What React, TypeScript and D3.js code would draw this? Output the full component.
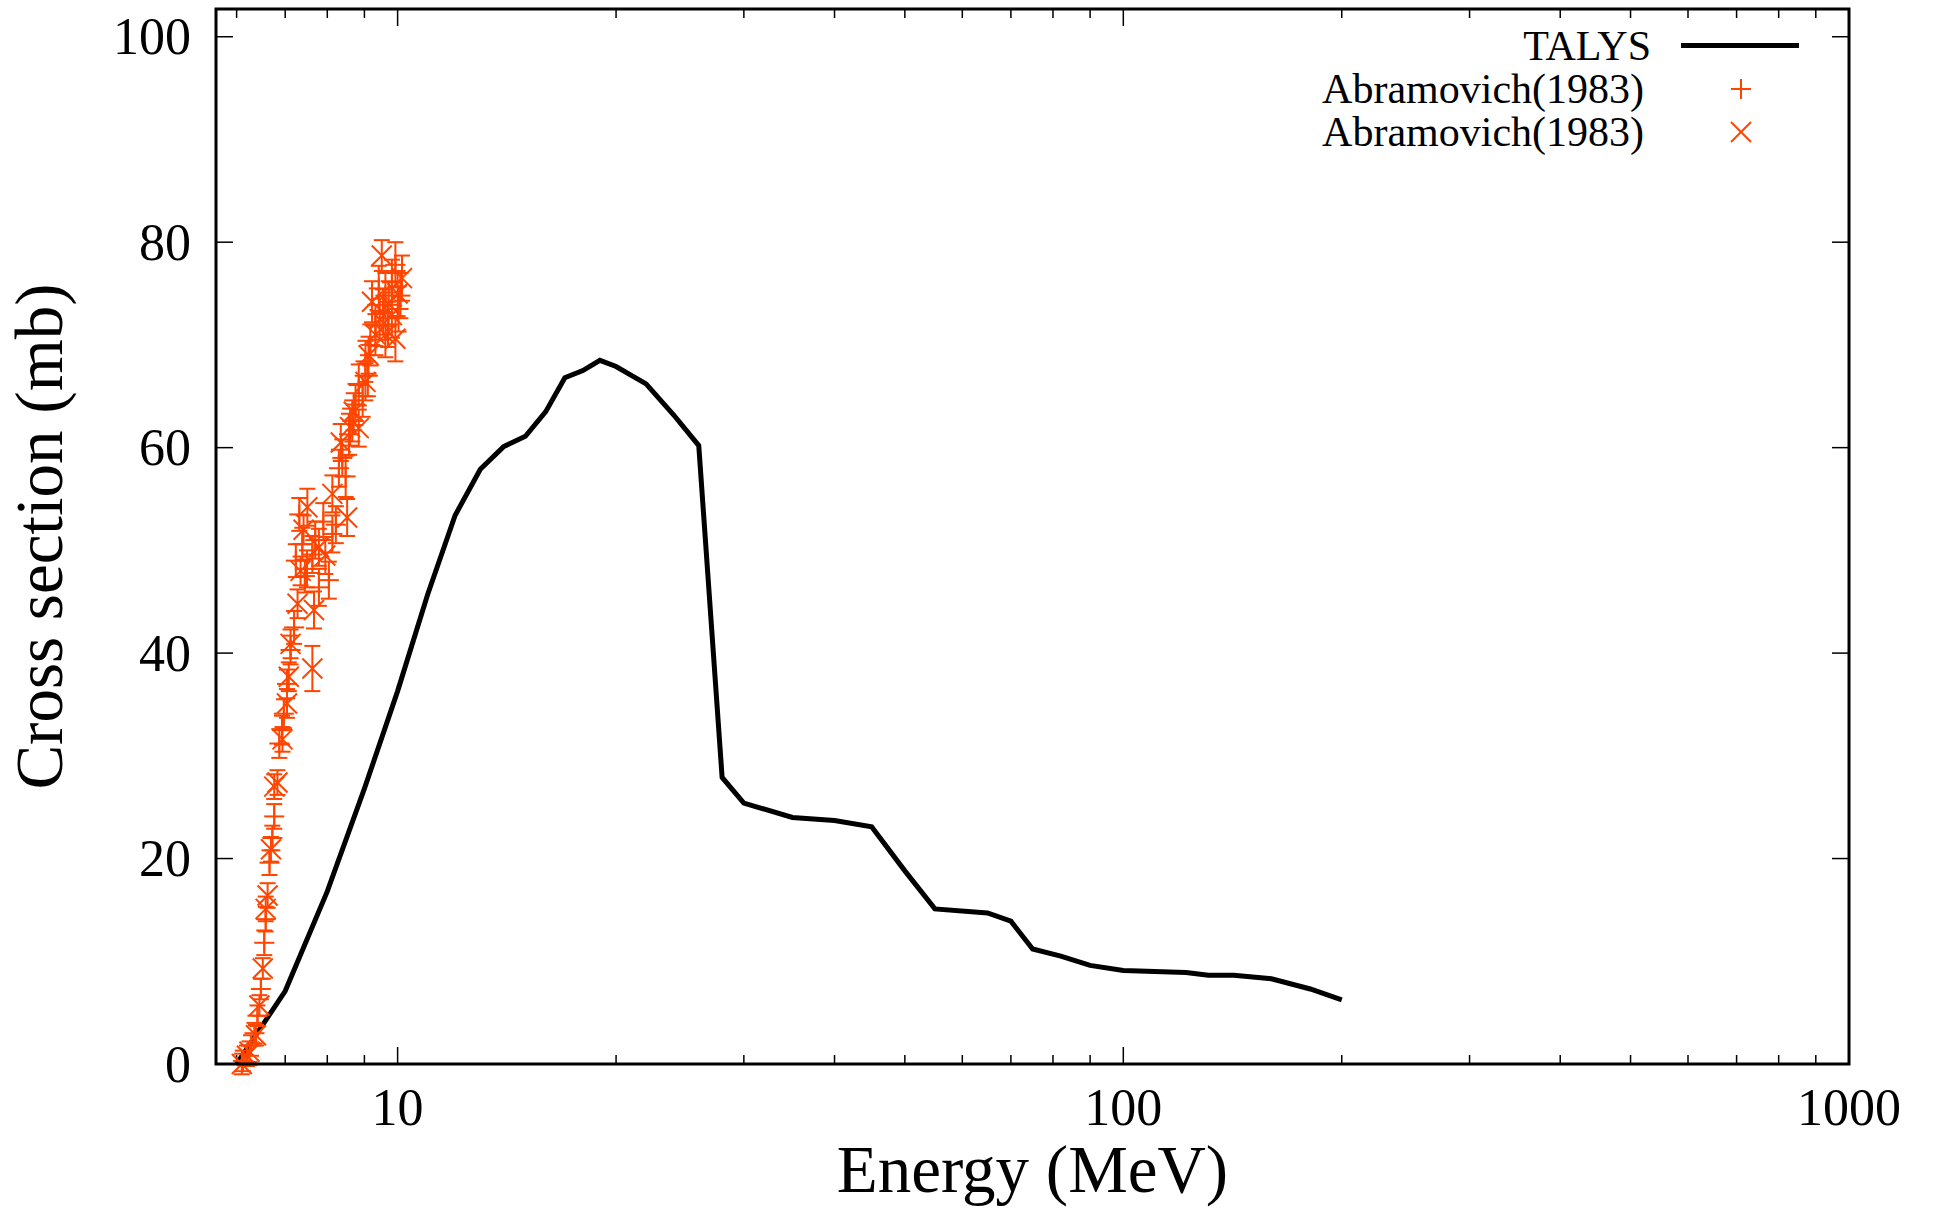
import React from 'react';
import * as d3 from 'd3';

// TALYS calculation
const talysEnergy = [6, 7, 8, 9, 10, 11, 12, 13, 14, 15, 16, 17, 18, 19, 20, 22, 24, 26, 28, 30, 35, 40, 45, 50, 55, 65, 70, 75, 82, 90, 100, 122, 131, 142, 160, 181, 200];
const talysXs = [0, 7.1, 16.8, 26.8, 36.3, 45.7, 53.4, 57.9, 60.1, 61.1, 63.5, 66.8, 67.5, 68.5, 67.9, 66.2, 63.2, 60.2, 27.9, 25.4, 24.0, 23.7, 23.1, 18.8, 15.1, 14.7, 13.9, 11.2, 10.5, 9.6, 9.1, 8.9, 8.65, 8.65, 8.3, 7.3, 6.25];

// Abramovich(1983), first set (+)
const abr1Energy = [6.12, 6.28, 6.35, 6.41, 6.48, 6.55, 6.58, 6.66, 6.72, 6.76, 6.87, 6.93, 6.97, 7.04, 7.12, 7.2, 7.24, 7.32, 7.39, 7.45, 7.5, 7.63, 7.7, 7.79, 7.9, 8.04, 8.13, 8.22, 8.3, 8.39, 8.48, 8.57, 8.66, 8.75, 8.84, 8.95, 9.03, 9.1, 9.17, 9.32, 9.42, 9.55, 9.62, 9.7, 9.82, 9.93, 10.03, 10.09];
const abr1Xs = [0.3, 1.8, 3.0, 4.7, 7.3, 11.8, 14.1, 19.6, 22.0, 24.1, 31.2, 32.5, 34.1, 37.0, 40.3, 42.5, 49.0, 53.5, 50.6, 47.5, 48.2, 49.6, 51.0, 46.4, 52.8, 47.1, 51.6, 52.5, 58.0, 59.0, 57.2, 61.3, 62.6, 64.2, 66.1, 65.0, 68.4, 67.0, 70.0, 71.9, 75.5, 73.2, 74.8, 72.0, 76.1, 77.8, 73.5, 74.8];
const abr1Err = [1.0, 1.0, 1.0, 1.0, 1.0, 1.2, 1.2, 1.2, 1.2, 1.2, 1.4, 1.4, 1.4, 1.4, 1.4, 1.6, 1.6, 1.6, 1.6, 1.6, 1.8, 1.8, 1.8, 1.8, 1.8, 1.8, 1.8, 1.8, 1.8, 1.8, 2.0, 2.0, 2.0, 2.0, 2.0, 2.0, 2.0, 2.0, 2.0, 2.0, 2.2, 2.2, 2.2, 2.2, 2.2, 2.2, 2.2, 2.2];

// Abramovich(1983), second set (x)
const abr2Energy = [6.1, 6.2, 6.25, 6.38, 6.45, 6.52, 6.58, 6.62, 6.69, 6.76, 6.83, 6.94, 7.04, 7.08, 7.12, 7.28, 7.35, 7.42, 7.51, 7.63, 7.67, 7.79, 7.95, 8.13, 8.35, 8.52, 8.6, 8.7, 8.84, 9.03, 9.12, 9.22, 9.32, 9.45, 9.51, 9.62, 9.72, 9.82, 9.93, 10.0, 10.14];
const abr2Xs = [0.0, 0.8, 1.2, 2.8, 5.7, 9.3, 15.1, 16.4, 20.9, 27.0, 27.4, 31.6, 35.1, 37.7, 40.9, 44.8, 48.0, 52.0, 54.2, 38.5, 44.2, 50.3, 49.5, 55.5, 60.5, 53.2, 62.0, 63.5, 61.9, 66.4, 69.0, 74.2, 71.0, 72.5, 78.7, 71.0, 74.0, 72.9, 70.6, 75.0, 76.5];
const abr2Err = [1.0, 1.0, 1.0, 1.0, 1.0, 1.0, 1.2, 1.2, 1.2, 1.2, 1.2, 1.2, 1.4, 1.4, 1.4, 1.4, 1.4, 1.4, 1.8, 2.2, 1.8, 1.8, 1.8, 1.8, 1.8, 1.8, 1.8, 1.8, 1.8, 1.8, 1.8, 2.0, 2.0, 2.0, 1.5, 2.2, 2.2, 2.2, 2.2, 2.2, 2.2];

const legendLabels = ['TALYS', 'Abramovich(1983)', 'Abramovich(1983)'];

const W = 1935;
const H = 1210;
const left = 216, right = 1849, top = 9, bottom = 1064;
const dataColor = '#ff4500';
const font = '"Liberation Serif", "Times New Roman", serif';

const xScale = d3.scaleLog().domain([5.62, 1000]).range([left, right]);
const yScale = d3.scaleLinear().domain([0, 102.7]).range([bottom, top]);

const MS = 10; // half marker size
const CAP = 8;

const Plus = ({ x, y }: { x: number; y: number }) => (
  <g stroke={dataColor} strokeWidth={2}>
    <line x1={x - MS} x2={x + MS} y1={y} y2={y} />
    <line x1={x} x2={x} y1={y - MS} y2={y + MS} />
  </g>
);

const Cross = ({ x, y }: { x: number; y: number }) => (
  <g stroke={dataColor} strokeWidth={2}>
    <line x1={x - MS} x2={x + MS} y1={y - MS} y2={y + MS} />
    <line x1={x - MS} x2={x + MS} y1={y + MS} y2={y - MS} />
  </g>
);

const ErrBar = ({ x, v, e }: { x: number; v: number; e: number }) => {
  const y1 = yScale(v - e);
  const y2 = yScale(v + e);
  return (
    <g stroke={dataColor} strokeWidth={2}>
      <line x1={x} x2={x} y1={y1} y2={y2} />
      <line x1={x - CAP} x2={x + CAP} y1={y1} y2={y1} />
      <line x1={x - CAP} x2={x + CAP} y1={y2} y2={y2} />
    </g>
  );
};

export default function App() {
  const talys = talysEnergy.map((e, i) => [e, talysXs[i]] as [number, number]);
  const line = d3.line<[number, number]>()
    .x(d => xScale(d[0]))
    .y(d => yScale(d[1]));

  const xTicks = xScale.ticks();
  const isMajor = (t: number) => Math.abs(Math.log10(t) - Math.round(Math.log10(t))) < 1e-9;
  const yTicks = yScale.ticks(5);

  return (
    <svg width={W} height={H} style={{ position: 'absolute', left: 0, top: 0, background: '#fff' }}>
      <rect x={0} y={0} width={W} height={H} fill="#fff" />

      {/* ticks */}
      <g stroke="#000" strokeWidth={1.5}>
        {xTicks.map(t => {
          const x = xScale(t);
          const len = isMajor(t) ? 17 : 9;
          return (
            <g key={'xt' + t}>
              <line x1={x} x2={x} y1={bottom} y2={bottom - len} />
              <line x1={x} x2={x} y1={top} y2={top + len} />
            </g>
          );
        })}
        {yTicks.map(t => {
          const y = yScale(t);
          return (
            <g key={'yt' + t}>
              <line x1={left} x2={left + 17} y1={y} y2={y} />
              <line x1={right} x2={right - 17} y1={y} y2={y} />
            </g>
          );
        })}
      </g>

      {/* tick labels */}
      <g fontFamily={font} fontSize={52} fill="#000">
        {xTicks.filter(isMajor).map(t => (
          <text key={'xl' + t} x={xScale(t)} y={1125} textAnchor="middle">{t}</text>
        ))}
        {yTicks.map(t => (
          <text key={'yl' + t} x={191} y={yScale(t)} dy="0.34em" textAnchor="end">{t}</text>
        ))}
      </g>

      {/* TALYS */}
      <path d={line(talys) || ''} fill="none" stroke="#000" strokeWidth={5} strokeLinejoin="miter" />

      {/* experimental data */}
      {abr1Energy.map((e, i) => (
        <g key={'a1' + i}>
          <ErrBar x={xScale(e)} v={abr1Xs[i]} e={abr1Err[i]} />
          <Plus x={xScale(e)} y={yScale(abr1Xs[i])} />
        </g>
      ))}
      {abr2Energy.map((e, i) => (
        <g key={'a2' + i}>
          <ErrBar x={xScale(e)} v={abr2Xs[i]} e={abr2Err[i]} />
          <Cross x={xScale(e)} y={yScale(abr2Xs[i])} />
        </g>
      ))}

      {/* frame */}
      <rect x={left} y={top} width={right - left} height={bottom - top} fill="none" stroke="#000" strokeWidth={3} />

      {/* axis titles */}
      <text x={(left + right) / 2} y={1192} textAnchor="middle" fontFamily={font} fontSize={67}>Energy (MeV)</text>
      <text transform={`translate(62, ${(top + bottom) / 2}) rotate(-90)`} textAnchor="middle" fontFamily={font} fontSize={67}>Cross section (mb)</text>

      {/* legend */}
      <g fontFamily={font} fontSize={42}>
        <text x={1651} y={60} textAnchor="end">{legendLabels[0]}</text>
        <line x1={1681} x2={1799} y1={45.5} y2={45.5} stroke="#000" strokeWidth={5} />
        <text x={1644} y={103} textAnchor="end">{legendLabels[1]}</text>
        <Plus x={1741} y={89} />
        <text x={1644} y={146} textAnchor="end">{legendLabels[2]}</text>
        <Cross x={1741} y={132} />
      </g>
    </svg>
  );
}
